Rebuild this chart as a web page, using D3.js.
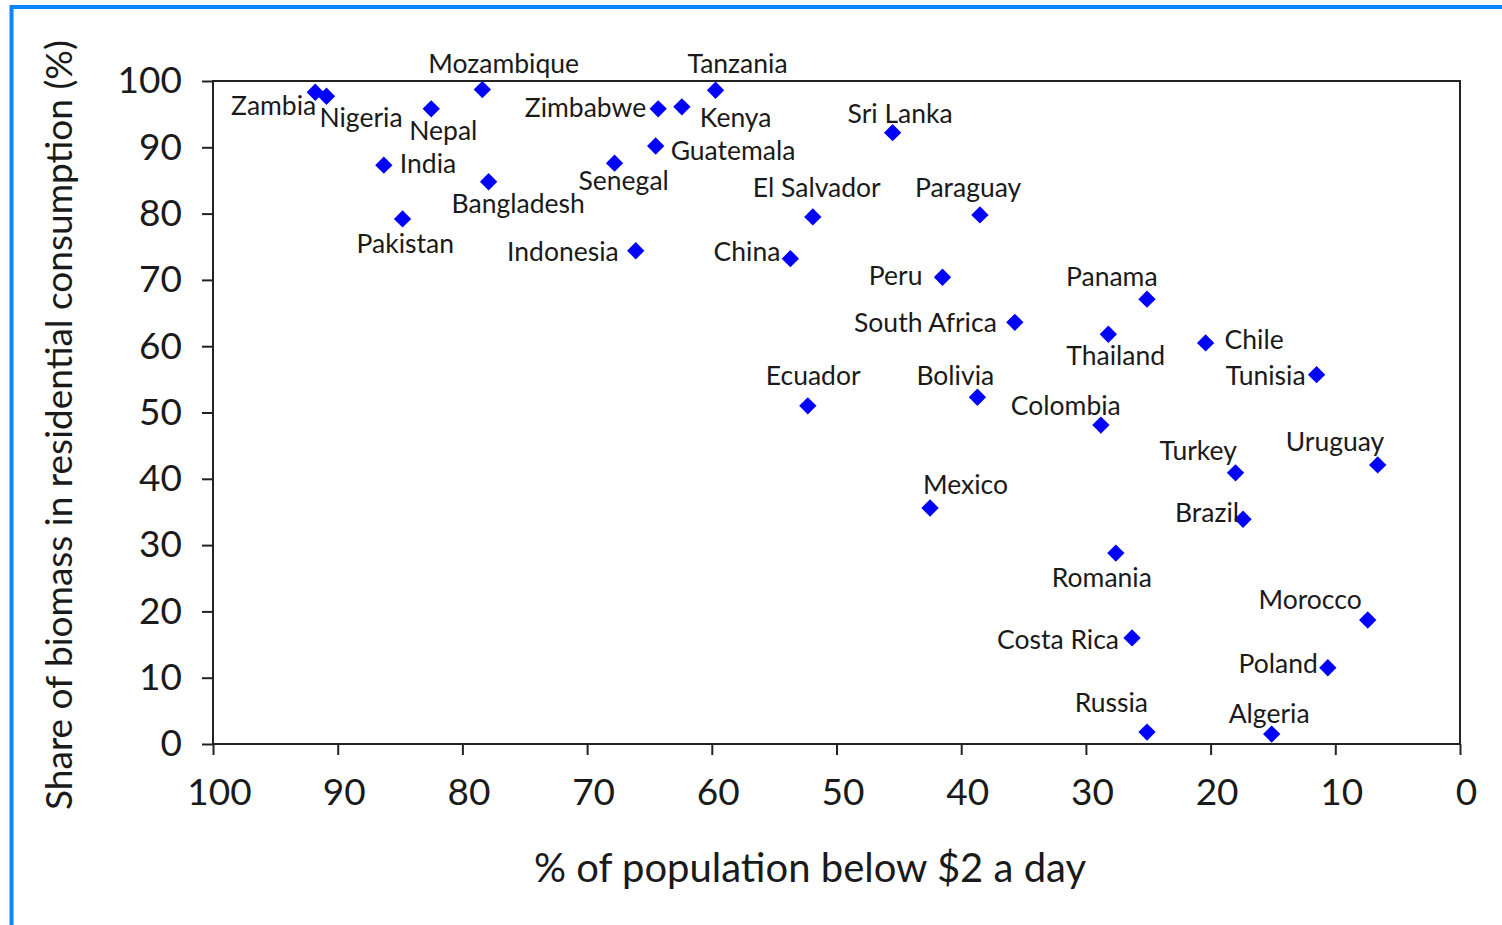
<!DOCTYPE html>
<html>
<head>
<meta charset="utf-8">
<script src="https://cdn.jsdelivr.net/npm/d3@7"></script>
<style>
  body { margin: 0; background: #fff; }
  svg { display: block; font-family: Lato, "Noto Sans", sans-serif; }
  .tick line { stroke: #222; stroke-width: 2; }
  .tick text { fill: #1a1a1a; font-size: 37px; }
  .lbl { fill: #1a1a1a; font-size: 26.5px; }
</style>
</head>
<body>
<div id="chart"></div>
<script>
// countries, % below $2/day, share of biomass (%)
const countries = ["Zambia","Nigeria","Nepal","Mozambique","India","Bangladesh","Pakistan",
  "Senegal","Zimbabwe","Kenya","Tanzania","Guatemala","Indonesia","China","El Salvador",
  "Sri Lanka","Paraguay","Peru","Panama","South Africa","Thailand","Chile","Tunisia",
  "Ecuador","Bolivia","Colombia","Uruguay","Turkey","Brazil","Mexico","Romania",
  "Morocco","Costa Rica","Poland","Russia","Algeria"];
const povertyPct = [91.8,90.9,82.5,78.4,86.3,77.9,84.8,
  67.8,64.3,62.4,59.7,64.5,66.1,53.7,51.9,
  45.5,38.5,41.5,25.1,35.7,28.2,20.4,11.5,
  52.3,38.7,28.8,6.6,18.0,17.4,42.5,27.6,
  7.4,26.3,10.6,25.1,15.1];
const biomassPct = [98.3,97.7,95.8,98.7,87.3,84.8,79.2,
  87.6,95.8,96.1,98.6,90.2,74.4,73.2,79.5,
  92.2,79.8,70.4,67.1,63.6,61.8,60.5,55.7,
  51.0,52.3,48.1,42.1,40.9,33.9,35.6,28.8,
  18.7,16.0,11.5,1.8,1.5];
const xTicks = [100,90,80,70,60,50,40,30,20,10,0];
const yTicks = [0,10,20,30,40,50,60,70,80,90,100];

// label placement: anchor, dx, dy (baseline) relative to marker
const labelPlace = {
  "Zambia":["end",1,23], "Nigeria":["start",-7,31], "Nepal":["start",-22,31],
  "Mozambique":["start",-54,-17], "India":["start",16,8], "Bangladesh":["start",-37,31],
  "Pakistan":["start",-46,34], "Senegal":["start",-36,27], "Zimbabwe":["end",-12,8],
  "Kenya":["start",18,20], "Tanzania":["start",-28,-17], "Guatemala":["start",15,14],
  "Indonesia":["end",-17,10], "China":["end",-10,2], "El Salvador":["start",-60,-20],
  "Sri Lanka":["start",-45,-10], "Paraguay":["start",-65,-18], "Peru":["end",-20,8],
  "Panama":["start",-81,-13], "South Africa":["end",-18,10], "Thailand":["start",-42,31],
  "Chile":["start",19,6], "Tunisia":["end",-11,10], "Ecuador":["start",-42,-21],
  "Bolivia":["start",-61,-12], "Colombia":["start",-90,-10], "Uruguay":["start",-92,-14],
  "Turkey":["start",-76,-13], "Brazil":["end",-4,3], "Mexico":["start",-7,-14],
  "Romania":["start",-64,34], "Morocco":["end",-6,-11], "Costa Rica":["end",-13,11],
  "Poland":["end",-10,5], "Russia":["end",1,-20], "Algeria":["start",-43,-11]
};

const width = 1502, height = 925;
const plotL = 213, plotR = 1460, plotT = 81, plotB = 744;

const svg = d3.select("#chart").append("svg")
  .attr("width", width).attr("height", height);

// blue frame (top and left edges visible)
svg.append("rect")
  .attr("x", 11.5).attr("y", 7).attr("width", 1600).attr("height", 1000)
  .attr("fill", "none").attr("stroke", "#0a86ff").attr("stroke-width", 4);

const x = d3.scaleLinear().domain([100, 0]).range([plotL, plotR]);
const y = d3.scaleLinear().domain([0, 100]).range([plotB, plotT]);

svg.append("rect")
  .attr("x", plotL).attr("y", plotT)
  .attr("width", plotR - plotL).attr("height", plotB - plotT)
  .attr("fill", "none").attr("stroke", "#222").attr("stroke-width", 2);

const yAxis = svg.append("g")
  .attr("transform", "translate(" + plotL + ",0)")
  .call(d3.axisLeft(y).tickValues(yTicks).tickSize(11).tickPadding(20));
yAxis.select(".domain").remove();
yAxis.attr("font-family", null).attr("font-size", null);

const xAxis = svg.append("g")
  .attr("transform", "translate(0," + plotB + ")")
  .call(d3.axisBottom(x).tickValues(xTicks).tickSize(11).tickPadding(24));
xAxis.select(".domain").remove();
xAxis.attr("font-family", null).attr("font-size", null);
xAxis.selectAll("text").attr("dx", 6);

const points = countries.map((c, i) => ({ name: c, px: povertyPct[i], bio: biomassPct[i] }));

svg.append("g").selectAll("path")
  .data(points).enter().append("path")
  .attr("d", d3.symbol().type(d3.symbolSquare).size(150))
  .attr("transform", d => "translate(" + x(d.px) + "," + y(d.bio) + ") rotate(45)")
  .attr("fill", "#0000ff");

svg.append("g").selectAll("text")
  .data(points).enter().append("text")
  .attr("class", "lbl")
  .attr("x", d => x(d.px) + labelPlace[d.name][1])
  .attr("y", d => y(d.bio) + labelPlace[d.name][2])
  .attr("text-anchor", d => labelPlace[d.name][0])
  .text(d => d.name);

svg.append("text")
  .attr("x", 810).attr("y", 882)
  .attr("text-anchor", "middle")
  .attr("font-size", 40).attr("fill", "#1a1a1a")
  .text("% of population below $2 a day");

svg.append("text")
  .attr("transform", "translate(72,425) rotate(-90)")
  .attr("text-anchor", "middle")
  .attr("font-size", 37).attr("fill", "#1a1a1a")
  .text("Share of biomass in residential consumption (%)");
</script>
</body>
</html>
